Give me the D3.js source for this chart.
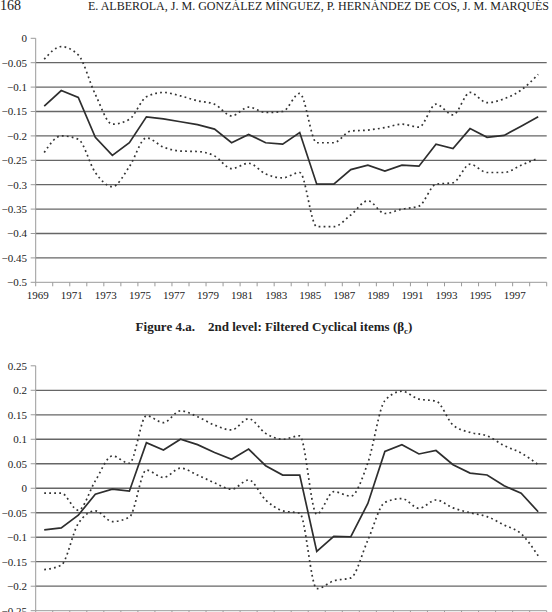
<!DOCTYPE html>
<html>
<head>
<meta charset="utf-8">
<script src="https://cdn.jsdelivr.net/npm/d3@7"></script>
<style>
  body { margin: 0; background: #fff; }
  svg text { font-family: "Liberation Serif", "Times New Roman", Times, "DejaVu Serif", serif; }
  .tickLabel { font-size: 11px; fill: #222; }
  .grid { stroke: #666; stroke-width: 1.3; }
  .axisLine { stroke: #9a9a9a; stroke-width: 1; }
</style>
</head>
<body>
<svg width="552" height="612"></svg>
<script>
// years (one point per year, 1969-1998)
var years = [1969, 1970, 1971, 1972, 1973, 1974, 1975, 1976, 1977, 1978, 1979, 1980, 1981, 1982, 1983,
    1984, 1985, 1986, 1987, 1988, 1989, 1990, 1991, 1992, 1993, 1994, 1995, 1996, 1997, 1998];
var yearLabels = [1969, 1971, 1973, 1975, 1977, 1979, 1981, 1983, 1985, 1987, 1989, 1991, 1993, 1995, 1997];

// chart a (top)
var topMid = [-0.139, -0.107, -0.121, -0.203, -0.240, -0.214, -0.161, -0.165, -0.171, -0.177,
    -0.186, -0.214, -0.197, -0.214, -0.217, -0.193, -0.299, -0.299, -0.269, -0.260,
    -0.272, -0.260, -0.262, -0.217, -0.226, -0.185, -0.203, -0.199, -0.180, -0.161];
var topUpper = [-0.043, -0.017, -0.034, -0.115, -0.176, -0.166, -0.120, -0.111, -0.118, -0.128,
    -0.135, -0.159, -0.141, -0.152, -0.150, -0.113, -0.214, -0.214, -0.190, -0.188,
    -0.183, -0.176, -0.182, -0.135, -0.157, -0.111, -0.132, -0.124, -0.106, -0.074];
var topLower = [-0.234, -0.200, -0.207, -0.275, -0.304, -0.263, -0.204, -0.223, -0.231, -0.232,
    -0.241, -0.267, -0.256, -0.278, -0.286, -0.275, -0.386, -0.386, -0.362, -0.333,
    -0.359, -0.350, -0.344, -0.299, -0.296, -0.258, -0.275, -0.275, -0.260, -0.246];
var topTicks = [0, -0.05, -0.1, -0.15, -0.2, -0.25, -0.3, -0.35, -0.4, -0.45, -0.5];

// chart b (bottom)
var botMid = [-0.085, -0.081, -0.055, -0.012, -0.002, -0.006, 0.093, 0.078, 0.100, 0.089,
    0.073, 0.059, 0.080, 0.046, 0.027, 0.027, -0.129, -0.098, -0.099, -0.031,
    0.075, 0.089, 0.070, 0.077, 0.048, 0.031, 0.027, 0.005, -0.010, -0.048];
var botUpper = [-0.010, -0.010, -0.045, 0.015, 0.066, 0.051, 0.148, 0.134, 0.158, 0.146,
    0.129, 0.119, 0.142, 0.112, 0.100, 0.107, -0.053, -0.007, -0.016, 0.052,
    0.179, 0.198, 0.182, 0.178, 0.129, 0.114, 0.107, 0.087, 0.072, 0.048];
var botLower = [-0.166, -0.157, -0.072, -0.046, -0.068, -0.059, 0.037, 0.022, 0.041, 0.027,
    0.011, -0.002, 0.017, -0.024, -0.046, -0.051, -0.205, -0.189, -0.183, -0.106,
    -0.029, -0.021, -0.041, -0.024, -0.040, -0.050, -0.058, -0.075, -0.093, -0.138];
var botTicks = [0.25, 0.2, 0.15, 0.1, 0.05, 0, -0.05, -0.1, -0.15, -0.2, -0.25];

const svg = d3.select('svg');

// page header
svg.append('text').attr('x', 0).attr('y', 10).attr('font-size', 14).attr('fill', '#222').text('168');
svg.append('text').attr('x', 88).attr('y', 10).attr('font-size', 13).attr('fill', '#222')
    .attr('textLength', 461).attr('lengthAdjust', 'spacingAndGlyphs')
    .text('E. ALBEROLA, J. M. GONZÁLEZ MÍNGUEZ, P. HERNÁNDEZ DE COS, J. M. MARQUÉS');

const xScale = d3.scaleBand().domain(years).range([35.7, 546.7]).padding(0);
const xMid = d => xScale(d) + xScale.bandwidth() / 2;
const fmt = v => (v < 0 ? '\u2212' : '') + Math.abs(v);

function drawChart(yScale, ticks, mid, upper, lower, showLabels) {
    const g = svg.append('g');
    const x0 = xScale.range()[0], x1 = xScale.range()[1];
    const yBottom = yScale.range()[0];

    // gridlines (none at the top value)
    g.selectAll('.grid').data(ticks.filter(t => t != yScale.domain()[1] && t != yScale.domain()[0]))
        .enter().append('line').attr('class', 'grid')
        .attr('x1', x0).attr('x2', x1)
        .attr('y1', d => yScale(d)).attr('y2', d => yScale(d));

    // y axis
    g.append('line').attr('class', 'axisLine')
        .attr('x1', x0).attr('x2', x0).attr('y1', yScale.range()[1]).attr('y2', yBottom);
    g.selectAll('.ytick').data(ticks).enter().append('line').attr('class', 'axisLine')
        .attr('x1', x0 - 5).attr('x2', x0).attr('y1', d => yScale(d)).attr('y2', d => yScale(d));
    g.selectAll('.ylab').data(ticks).enter().append('text').attr('class', 'tickLabel')
        .attr('x', 27).attr('y', d => yScale(d)).attr('dy', '0.35em').attr('text-anchor', 'end')
        .text(fmt);

    // x axis
    g.append('line').attr('class', 'axisLine')
        .attr('x1', x0).attr('x2', x1).attr('y1', yBottom).attr('y2', yBottom);
    var tickPos = years.map(d => xScale(d)).concat([x1]);
    g.selectAll('.xtick').data(tickPos).enter().append('line').attr('class', 'axisLine')
        .attr('x1', d => d).attr('x2', d => d).attr('y1', yBottom).attr('y2', yBottom + 4);
    if (showLabels) {
        g.selectAll('.xlab').data(yearLabels).enter().append('text').attr('class', 'tickLabel')
            .attr('x', d => xScale(d) + 2).attr('y', yBottom + 17).attr('text-anchor', 'middle')
            .text(d => d);
    }

    const line = d3.line().x((d, i) => xMid(years[i])).y(d => yScale(d));
    const smooth = d3.line().x((d, i) => xMid(years[i])).y(d => yScale(d)).curve(d3.curveMonotoneX);

    [upper, lower].forEach(s => {
        g.append('path').attr('d', smooth(s)).attr('fill', 'none')
            .attr('stroke', '#333').attr('stroke-width', 1.7)
            .attr('stroke-dasharray', '1.8,3.2').attr('stroke-linecap', 'butt');
    });
    g.append('path').attr('d', line(mid)).attr('fill', 'none')
        .attr('stroke', '#2e2e2e').attr('stroke-width', 1.7);
}

const yTop = d3.scaleLinear().domain([-0.5, 0]).range([282.3, 38.3]);
drawChart(yTop, topTicks, topMid, topUpper, topLower, true);

const yBot = d3.scaleLinear().domain([-0.25, 0.25]).range([610.7, 365.8]);
drawChart(yBot, botTicks, botMid, botUpper, botLower, false);

// caption
var cap = svg.append('text').attr('x', 274).attr('y', 331).attr('text-anchor', 'middle')
    .attr('font-size', 13).attr('font-weight', 'bold').attr('fill', '#222');
cap.append('tspan').text('Figure 4.a.\u00a0\u00a0\u00a0\u00a02nd level: Filtered Cyclical items (\u03b2');
cap.append('tspan').attr('font-size', 9).attr('dy', 3).text('c');
cap.append('tspan').attr('dy', -3).text(')');
</script>
</body>
</html>
